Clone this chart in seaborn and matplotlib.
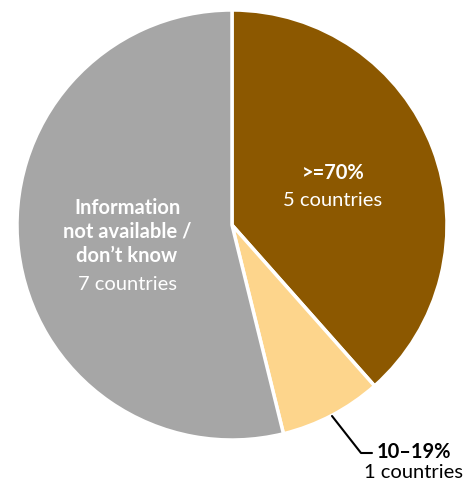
import matplotlib
matplotlib.use("Agg")
import matplotlib.pyplot as plt
import seaborn as sns

categories = [">=70%", "10–19%", "Information\nnot available /\ndon’t know"]
counts = [5, 1, 7]
colors = ["#8C5800", "#FDD58C", "#A6A6A6"]

sns.set_theme(style="white")
plt.rcParams['font.family'] = ['Lato', 'DejaVu Sans']

fig = plt.figure(figsize=(4.76, 4.87), dpi=100)
ax = fig.add_axes([0, 0, 1, 1])
W, H = 476, 487
cx, cy, r = 232, H - 225, 215
wedges, _ = ax.pie(counts, colors=sns.color_palette(colors), startangle=90, counterclock=False,
                   center=(cx, cy), radius=r, wedgeprops=dict(edgecolor="white", linewidth=2.5))
ax.set_xlim(0, W)
ax.set_ylim(0, H)
ax.set_aspect("equal")
ax.axis("off")

fs = 14.5
# >=70%
ax.text(333, H - 173, categories[0], ha="center", va="center", color="white", fontsize=fs, fontweight="bold")
ax.text(333, H - 200, f"{counts[0]} countries", ha="center", va="center", color="white", fontsize=fs)
# gray
ax.text(127, H - 232, categories[2], ha="center", va="center", color="white", fontsize=fs,
        fontweight="bold", linespacing=1.25)
ax.text(127, H - 284, f"{counts[2]} countries", ha="center", va="center", color="white", fontsize=fs)
# 10-19% with leader
ax.plot([332, 361, 372], [H - 416, H - 453, H - 453], color="black", lw=1.5)
ax.text(377, H - 452, categories[1], ha="left", va="center", color="black", fontsize=fs, fontweight="bold")
ax.text(414, H - 472, f"{counts[1]} countries", ha="center", va="center", color="black", fontsize=fs)

fig.savefig("out.png", dpi=100)
